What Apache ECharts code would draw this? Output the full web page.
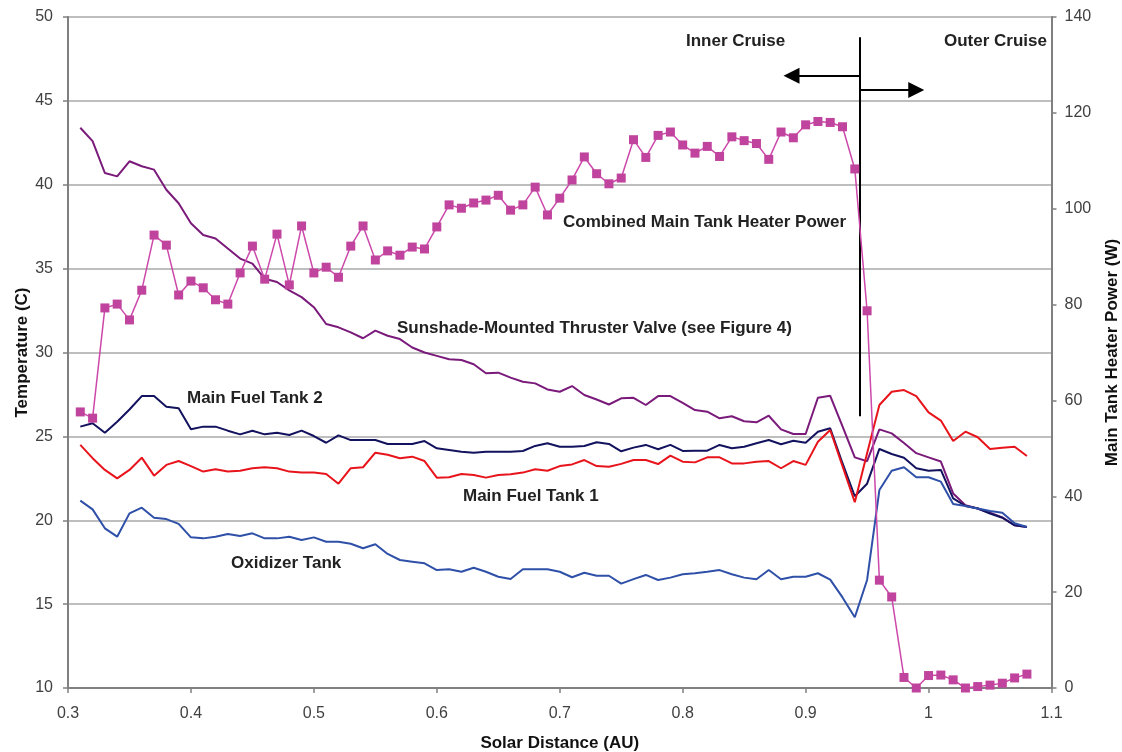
<!DOCTYPE html>
<html>
<head>
<meta charset="utf-8">
<script src="https://cdn.jsdelivr.net/npm/echarts@6/dist/echarts.min.js"></script>
<style>
html,body{margin:0;padding:0;background:#fff;}
#chart{width:1122px;height:752px;}
</style>
</head>
<body>
<div id="chart"></div>
<script>
// ---- data ----
const distance = [0.31,0.32,0.33,0.34,0.35,0.36,0.37,0.38,0.39,0.40,
  0.41,0.42,0.43,0.44,0.45,0.46,0.47,0.48,0.49,0.50,
  0.51,0.52,0.53,0.54,0.55,0.56,0.57,0.58,0.59,0.60,
  0.61,0.62,0.63,0.64,0.65,0.66,0.67,0.68,0.69,0.70,
  0.71,0.72,0.73,0.74,0.75,0.76,0.77,0.78,0.79,0.80,
  0.81,0.82,0.83,0.84,0.85,0.86,0.87,0.88,0.89,0.90,
  0.91,0.92,0.93,0.94,0.95,0.96,0.97,0.98,0.99,1.00,
  1.01,1.02,1.03,1.04,1.05,1.06,1.07,1.08];

const heaterPower = [57.6,56.3,79.3,80.1,76.8,83.0,94.5,92.4,82.0,84.9,
  83.5,81.0,80.1,86.6,92.2,85.3,94.7,84.1,96.4,86.6,
  87.8,85.7,92.2,96.4,89.3,91.2,90.3,92.0,91.6,96.2,
  100.8,100.1,101.2,101.8,102.8,99.7,100.8,104.5,98.7,102.2,
  106.0,110.8,107.3,105.2,106.4,114.4,110.7,115.3,116.0,113.3,
  111.6,113.0,110.9,115.0,114.2,113.6,110.3,116.0,114.8,117.5,
  118.2,118.0,117.1,108.3,78.7,22.5,19.0,2.2,0.0,2.6,
  2.7,1.7,0.0,0.3,0.6,1.0,2.1,2.9];

const valveTemp = [43.4,42.6,40.7,40.5,41.4,41.1,40.9,39.7,38.9,37.7,
  37.0,36.8,36.2,35.6,35.3,34.4,34.2,33.7,33.3,32.7,
  31.7,31.5,31.2,30.85,31.3,31.0,30.8,30.3,30.0,29.8,
  29.6,29.55,29.3,28.76,28.8,28.5,28.26,28.16,27.8,27.66,
  28.0,27.47,27.2,26.9,27.27,27.3,26.87,27.4,27.4,27.0,
  26.57,26.47,26.08,26.2,25.9,25.84,26.23,25.42,25.14,25.14,
  27.3,27.42,25.6,23.75,23.52,25.42,25.18,24.6,24.0,23.75,
  23.5,21.6,20.9,20.7,20.45,20.17,19.7,19.6];

const tank2Temp = [25.58,25.78,25.22,25.87,26.6,27.4,27.4,26.77,26.67,25.42,
  25.58,25.58,25.34,25.12,25.34,25.12,25.22,25.08,25.34,25.02,
  24.62,25.06,24.78,24.78,24.78,24.55,24.55,24.55,24.72,24.29,
  24.19,24.09,24.03,24.09,24.09,24.09,24.13,24.43,24.59,24.38,
  24.38,24.43,24.65,24.55,24.11,24.33,24.49,24.23,24.49,24.13,
  24.15,24.15,24.49,24.29,24.38,24.59,24.78,24.53,24.74,24.62,
  25.28,25.48,23.4,21.43,22.18,24.25,23.95,23.73,23.1,22.95,
  23.0,21.3,20.85,20.7,20.4,20.15,19.7,19.6];

const tank1Temp = [24.49,23.7,23.0,22.5,23.0,23.73,22.66,23.3,23.53,23.23,
  22.9,23.04,22.9,22.95,23.1,23.16,23.1,22.9,22.84,22.84,
  22.76,22.18,23.1,23.16,24.03,23.9,23.7,23.79,23.53,22.54,
  22.56,22.76,22.7,22.54,22.7,22.74,22.84,23.04,22.95,23.23,
  23.33,23.59,23.23,23.19,23.36,23.59,23.59,23.35,23.85,23.49,
  23.45,23.75,23.75,23.39,23.39,23.49,23.53,23.1,23.53,23.3,
  24.68,25.38,23.23,21.07,24.0,26.87,27.66,27.76,27.4,26.43,
  25.94,24.72,25.28,24.95,24.25,24.32,24.38,23.83];

const oxidizerTemp = [21.17,20.65,19.52,19.02,20.41,20.75,20.15,20.07,19.78,18.98,
  18.92,19.02,19.18,19.06,19.22,18.92,18.92,19.02,18.82,18.98,
  18.72,18.72,18.6,18.33,18.57,17.99,17.63,17.53,17.43,17.03,
  17.08,16.93,17.17,16.93,16.63,16.5,17.08,17.08,17.08,16.93,
  16.6,16.87,16.69,16.69,16.22,16.49,16.74,16.44,16.58,16.78,
  16.84,16.93,17.03,16.78,16.58,16.48,17.03,16.48,16.63,16.63,
  16.84,16.46,15.4,14.22,16.44,21.8,22.95,23.16,22.56,22.56,
  22.3,20.97,20.85,20.7,20.55,20.45,19.82,19.6];

// phase boundary annotation (data coordinates: AU, deg C)
const boundaryX = 0.944;
const boundaryY = [26.2, 48.8];
const innerArrow = {y: 46.5, toX: 0.8885};
const outerArrow = {y: 45.65, toX: 0.990};

const xTicks = {min: 0.3, max: 1.1, step: 0.1};
const tempTicks = {min: 10, max: 50, step: 5};
const powerTicks = {min: 0, max: 140, step: 20};

// ---- build ----
const zip = vals => distance.map((d, i) => [d, vals[i]]);
const FONT = 'Liberation Sans, Arial, Helvetica, sans-serif';
const tickLabel = {fontSize: 16, color: '#404040', fontFamily: FONT};
const axisLine = {show: true, lineStyle: {color: '#808080', width: 2}};
const axisTick = {show: true, length: 5, lineStyle: {color: '#808080', width: 1.5}};
const nameStyle = {fontSize: 17, fontWeight: 'bold', color: '#111', fontFamily: FONT};

const chart = echarts.init(document.getElementById('chart'), null, {renderer: 'canvas'});

function lineSeries(name, vals, color) {
  return {
    name, type: 'line', yAxisIndex: 0, data: zip(vals),
    showSymbol: false, symbol: 'none',
    lineStyle: {color, width: 2}, itemStyle: {color},
    emphasis: {disabled: true}, silent: true
  };
}

const valve = lineSeries('Sunshade-Mounted Thruster Valve', valveTemp, '#7a1a7a');
valve.markLine = {
  silent: true, animation: false,
  symbol: ['none', 'triangle'], symbolSize: 16,
  label: {show: false},
  lineStyle: {color: '#000', width: 2, type: 'solid'},
  itemStyle: {color: '#000'},
  emphasis: {disabled: true},
  data: [
    [{coord: [boundaryX, boundaryY[0]], symbol: 'none'}, {coord: [boundaryX, boundaryY[1]], symbol: 'none'}],
    [{coord: [boundaryX, innerArrow.y]}, {coord: [innerArrow.toX, innerArrow.y]}],
    [{coord: [boundaryX, outerArrow.y]}, {coord: [outerArrow.toX, outerArrow.y]}]
  ]
};

const ann = (text, x, y) => ({type: 'text', x, y, silent: true,
  style: {text, font: 'bold 17px ' + FONT, fill: '#222', verticalAlign: 'middle'}});

const option = {
  animation: false,
  backgroundColor: '#fff',
  grid: {left: 68, right: 70.5, top: 17, bottom: 64, containLabel: false, outerBoundsMode: 'none'},
  xAxis: {
    type: 'value', min: xTicks.min, max: xTicks.max, interval: xTicks.step,
    name: 'Solar Distance (AU)', nameLocation: 'middle', nameGap: 47, nameMoveOverlap: false, nameTextStyle: nameStyle,
    axisLine, axisTick, splitLine: {show: false},
    axisLabel: Object.assign({margin: 18, formatter: v => String(Math.round(v * 10) / 10)}, tickLabel)
  },
  yAxis: [
    {
      type: 'value', min: tempTicks.min, max: tempTicks.max, interval: tempTicks.step, position: 'left',
      name: 'Temperature (C)', nameLocation: 'middle', nameGap: 37, nameMoveOverlap: false, nameTextStyle: nameStyle,
      axisLine, axisTick, axisLabel: Object.assign({margin: 15}, tickLabel),
      splitLine: {show: true, lineStyle: {color: '#a8a8a8', width: 1.5}}
    },
    {
      type: 'value', min: powerTicks.min, max: powerTicks.max, interval: powerTicks.step, position: 'right',
      name: 'Main Tank Heater Power (W)', nameLocation: 'middle', nameGap: 52, nameMoveOverlap: false, nameTextStyle: nameStyle,
      axisLine, axisTick, axisLabel: Object.assign({margin: 13}, tickLabel),
      splitLine: {show: false}
    }
  ],
  series: [
    valve,
    lineSeries('Main Fuel Tank 2', tank2Temp, '#12125e'),
    lineSeries('Main Fuel Tank 1', tank1Temp, '#e8141c'),
    lineSeries('Oxidizer Tank', oxidizerTemp, '#2f50a8'),
    {
      name: 'Combined Main Tank Heater Power', type: 'line', yAxisIndex: 1, data: zip(heaterPower),
      symbol: 'rect', symbolSize: 9, showSymbol: true,
      lineStyle: {color: '#cc48aa', width: 1.5}, itemStyle: {color: '#c0449e'},
      emphasis: {disabled: true}, silent: true, z: 5
    }
  ],
  graphic: [
    ann('Inner Cruise', 686, 41),
    ann('Outer Cruise', 944, 41),
    ann('Combined Main Tank Heater Power', 563, 222),
    ann('Sunshade-Mounted Thruster Valve (see Figure 4)', 397, 328),
    ann('Main Fuel Tank 2', 187, 398),
    ann('Main Fuel Tank 1', 463, 496),
    ann('Oxidizer Tank', 231, 563)
  ]
};
chart.setOption(option);
</script>
</body>
</html>
